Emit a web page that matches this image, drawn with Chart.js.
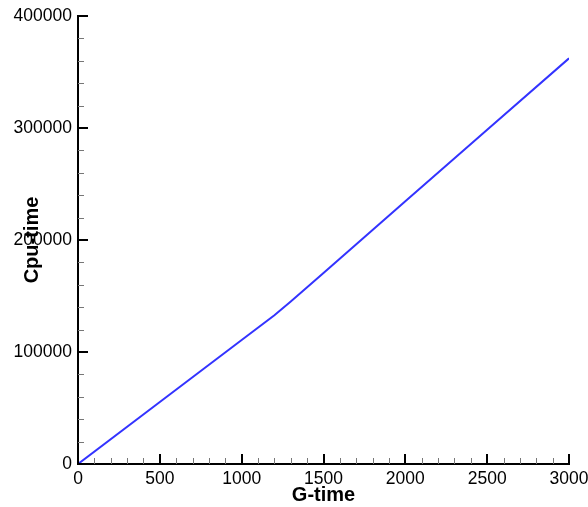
<!DOCTYPE html>
<html>
<head>
<meta charset="utf-8">
<script src="https://cdn.jsdelivr.net/npm/chart.js@4.4.1/dist/chart.umd.min.js"></script>
<style>
  html, body { margin: 0; padding: 0; background: #fff; }
  #wrap { width: 588px; height: 507px; position: relative; }
</style>
</head>
<body>
<div id="wrap"><canvas id="cpuChart"></canvas></div>
<script>
// values
var gTime   = [0, 500, 1000, 1200, 1300, 1500, 2000, 2500, 3000];
var cpuTime = [0, 55300, 110700, 132800, 145000, 170500, 234500, 298400, 362200];

var xTicks = [0, 500, 1000, 1500, 2000, 2500, 3000];
var yTicks = [0, 100000, 200000, 300000, 400000];
var xMinorStep = 100;
var yMinorStep = 20000;

var FONT = "'Liberation Sans', Arial, Helvetica, sans-serif";

var points = [];
for (var i = 0; i < gTime.length; i++) {
  points.push({x: gTime[i], y: cpuTime[i]});
}

// tick marks pointing into the plot, major + minor
var insideTicks = {
  id: 'insideTicks',
  afterDatasetsDraw: function(chart) {
    var ctx = chart.ctx;
    var xs = chart.scales.x, ys = chart.scales.y;
    var area = chart.chartArea;
    ctx.save();
    ctx.lineCap = 'butt';

    // minor
    ctx.strokeStyle = '#777';
    ctx.lineWidth = 1;
    ctx.beginPath();
    for (var v = xs.min; v <= xs.max; v += xMinorStep) {
      if (xTicks.indexOf(v) >= 0) continue;
      var px = Math.round(xs.getPixelForValue(v)) + 0.5;
      ctx.moveTo(px, area.bottom);
      ctx.lineTo(px, area.bottom - 6);
    }
    for (var w = ys.min; w <= ys.max; w += yMinorStep) {
      if (yTicks.indexOf(w) >= 0) continue;
      var py = Math.round(ys.getPixelForValue(w)) + 0.5;
      ctx.moveTo(area.left, py);
      ctx.lineTo(area.left + 6, py);
    }
    ctx.stroke();

    // major
    ctx.strokeStyle = '#000';
    ctx.lineWidth = 2;
    ctx.beginPath();
    xTicks.forEach(function(t) {
      var px = Math.round(xs.getPixelForValue(t));
      ctx.moveTo(px, area.bottom);
      ctx.lineTo(px, area.bottom - 10);
    });
    yTicks.forEach(function(t) {
      var py = Math.round(ys.getPixelForValue(t));
      ctx.moveTo(area.left, py);
      ctx.lineTo(area.left + 10, py);
    });
    ctx.stroke();
    ctx.restore();
  }
};

new Chart(document.getElementById('cpuChart'), {
  type: 'line',
  data: {
    datasets: [{
      data: points,
      borderColor: 'rgb(51,51,255)',
      borderWidth: 2,
      pointRadius: 0,
      tension: 0,
      fill: false
    }]
  },
  options: {
    responsive: true,
    maintainAspectRatio: false,
    animation: false,
    layout: { padding: { top: 16, right: 19, left: 0, bottom: 0 } },
    plugins: {
      legend: { display: false },
      tooltip: { enabled: false }
    },
    scales: {
      x: {
        type: 'linear',
        min: 0,
        max: 3000,
        afterFit: function(s) {
          s.height = 43;
          // let "3000" run to the canvas edge like the original
          s.paddingRight = 0;
          s.paddingLeft = 0;
        },
        grid: { display: false, drawTicks: false },
        border: { display: true, color: '#000', width: 2 },
        ticks: {
          stepSize: 500,
          padding: 5,
          color: '#000',
          maxRotation: 0,
          font: { family: FONT, size: 17.5 },
          callback: function(v) { return String(v); }
        },
        title: {
          display: true,
          text: 'G-time',
          color: '#000',
          font: { family: FONT, size: 20, weight: 'bold' },
          padding: { top: 0, bottom: 0 }
        }
      },
      y: {
        type: 'linear',
        min: 0,
        max: 400000,
        afterFit: function(s) {
          s.width = 78;
          s.paddingTop = 0;
          s.paddingBottom = 0;
        },
        grid: { display: false, drawTicks: false },
        border: { display: true, color: '#000', width: 2 },
        ticks: {
          stepSize: 100000,
          padding: 6,
          color: '#000',
          font: { family: FONT, size: 17.5 },
          callback: function(v) { return String(v); }
        },
        title: {
          display: true,
          text: 'Cpu-time',
          color: '#000',
          font: { family: FONT, size: 20, weight: 'bold' },
          padding: { top: 20, bottom: 0 }
        }
      }
    }
  },
  plugins: [insideTicks]
});
</script>
</body>
</html>
